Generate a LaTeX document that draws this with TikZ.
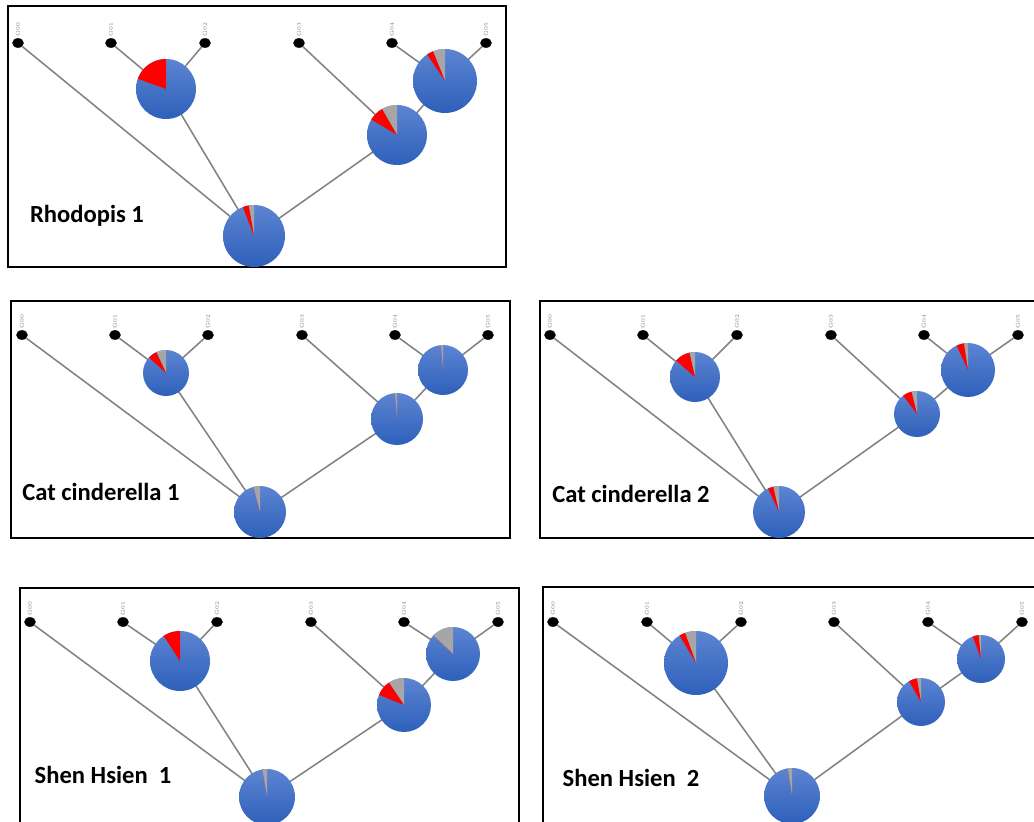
\documentclass[tikz,border=0pt]{standalone}
\usepackage{xcolor}
\usepackage{fontspec}
\usepackage{tikz}
\usetikzlibrary{shapes.geometric}
\newfontfamily\calibri{Carlito}
\definecolor{pietop}{RGB}{92,132,210}
\definecolor{piebottom}{RGB}{46,96,186}
\definecolor{piegray}{RGB}{166,166,166}
\definecolor{piered}{RGB}{255,0,0}
\definecolor{branchgray}{RGB}{130,130,130}
\newcommand{\drawpie}[4]{%
  \shade[top color=pietop,bottom color=piebottom] (#1.center) circle (#2);
  \fill[piegray] (#1.center) -- ++(90:#2) arc[start angle=90,end angle=#3,radius=#2] -- cycle;
  \fill[piered] (#1.center) -- ++(#3:#2) arc[start angle=#3,end angle=#4,radius=#2] -- cycle;
}

\begin{document}
\begin{tikzpicture}[x=0.025cm,y=0.025cm]
\useasboundingbox (0,0) rectangle (1034,-822);
\clip (0,0) rectangle (1034,-822);
\tikzstyle{leaf}=[ellipse,fill=black,inner sep=0,minimum width=0.29cm,minimum height=0.24cm];
\tikzstyle{tag}=[font=\fontsize{4}{4.5}\selectfont,text=gray,rotate=90,anchor=west,inner sep=0.8pt];
\tikzstyle{hub}=[circle,inner sep=0,minimum size=1pt];
\tikzstyle{branch}=[draw=branchgray,line width=1.1pt];
\tikzstyle{frame}=[draw=black,line width=1pt];
\tikzstyle{title}=[font=\calibri\bfseries\fontsize{17.5}{20}\selectfont];

% Rhodopis 1
\draw[frame] (8,-6) rectangle (506,-267);
\node[leaf,label={[tag]90:G00}] (a0) at (18,-43) {};
\node[leaf,label={[tag]90:G01}] (a1) at (111,-43) {};
\node[leaf,label={[tag]90:G02}] (a2) at (205,-43) {};
\node[leaf,label={[tag]90:G03}] (a3) at (299,-43) {};
\node[leaf,label={[tag]90:G04}] (a4) at (392,-43) {};
\node[leaf,label={[tag]90:G05}] (a5) at (486,-43) {};
\node[hub] (ar) at (254,-236) {};
\node[hub] (ap) at (166,-89) {};
\node[hub] (aq) at (397,-135) {};
\node[hub] (as) at (445,-81) {};
\draw[branch] (ar)--(a0);
\draw[branch] (ar)--(ap);
\draw[branch] (ap)--(a1);
\draw[branch] (ap)--(a2);
\draw[branch] (ar)--(aq);
\draw[branch] (aq)--(a3);
\draw[branch] (aq)--(as);
\draw[branch] (as)--(a4);
\draw[branch] (as)--(a5);
\drawpie{ap}{30}{90}{160}
\drawpie{ar}{31}{100}{111}
\drawpie{aq}{30}{120}{149}
\drawpie{as}{32}{112}{124}
\node[title] (ta) at (87,-216) {Rhodopis 1};

% Cat cinderella 1
\draw[frame] (11,-301) rectangle (510,-538);
\node[leaf,label={[tag]90:G00}] (b0) at (22,-335) {};
\node[leaf,label={[tag]90:G01}] (b1) at (115,-335) {};
\node[leaf,label={[tag]90:G02}] (b2) at (208,-335) {};
\node[leaf,label={[tag]90:G03}] (b3) at (302,-335) {};
\node[leaf,label={[tag]90:G04}] (b4) at (395,-335) {};
\node[leaf,label={[tag]90:G05}] (b5) at (488,-335) {};
\node[hub] (br) at (260,-512) {};
\node[hub] (bp) at (166,-373) {};
\node[hub] (bq) at (397,-419) {};
\node[hub] (bs) at (443,-370) {};
\draw[branch] (br)--(b0);
\draw[branch] (br)--(bp);
\draw[branch] (bp)--(b1);
\draw[branch] (bp)--(b2);
\draw[branch] (br)--(bq);
\draw[branch] (bq)--(b3);
\draw[branch] (bq)--(bs);
\draw[branch] (bs)--(b4);
\draw[branch] (bs)--(b5);
\drawpie{bp}{23}{115}{138}
\drawpie{br}{26}{105}{105}
\drawpie{bq}{26}{95}{95}
\drawpie{bs}{25}{95}{95}
\node[title] (tb) at (101,-492) {Cat cinderella 1};

% Cat cinderella 2
\draw[frame] (540,-301) rectangle (1040,-538);
\node[leaf,label={[tag]90:G00}] (c0) at (550,-335) {};
\node[leaf,label={[tag]90:G01}] (c1) at (643,-335) {};
\node[leaf,label={[tag]90:G02}] (c2) at (737,-335) {};
\node[leaf,label={[tag]90:G03}] (c3) at (831,-335) {};
\node[leaf,label={[tag]90:G04}] (c4) at (924,-335) {};
\node[leaf,label={[tag]90:G05}] (c5) at (1018,-335) {};
\node[hub] (cr) at (779,-512) {};
\node[hub] (cp) at (695,-377) {};
\node[hub] (cq) at (917,-414) {};
\node[hub] (cs) at (968,-370) {};
\draw[branch] (cr)--(c0);
\draw[branch] (cr)--(cp);
\draw[branch] (cp)--(c1);
\draw[branch] (cp)--(c2);
\draw[branch] (cr)--(cq);
\draw[branch] (cq)--(c3);
\draw[branch] (cq)--(cs);
\draw[branch] (cs)--(c4);
\draw[branch] (cs)--(c5);
\drawpie{cp}{25}{103}{139}
\drawpie{cr}{26}{103}{115}
\drawpie{cq}{23}{104}{127}
\drawpie{cs}{27}{99}{115}
\node[title] (tc) at (631,-494) {Cat cinderella 2};

% Shen Hsien 1
\draw[frame] (20,-588) rectangle (519,-840);
\node[leaf,label={[tag]90:G00}] (d0) at (30,-622) {};
\node[leaf,label={[tag]90:G01}] (d1) at (123,-622) {};
\node[leaf,label={[tag]90:G02}] (d2) at (217,-622) {};
\node[leaf,label={[tag]90:G03}] (d3) at (311,-622) {};
\node[leaf,label={[tag]90:G04}] (d4) at (404,-622) {};
\node[leaf,label={[tag]90:G05}] (d5) at (498,-622) {};
\node[hub] (dr) at (267,-797) {};
\node[hub] (dp) at (180,-661) {};
\node[hub] (dq) at (404,-705) {};
\node[hub] (ds) at (453,-654) {};
\draw[branch] (dr)--(d0);
\draw[branch] (dr)--(dp);
\draw[branch] (dp)--(d1);
\draw[branch] (dp)--(d2);
\draw[branch] (dr)--(dq);
\draw[branch] (dq)--(d3);
\draw[branch] (dq)--(ds);
\draw[branch] (ds)--(d4);
\draw[branch] (ds)--(d5);
\drawpie{dp}{30}{90}{123}
\drawpie{dr}{28}{100}{100}
\drawpie{dq}{27}{124}{158}
\drawpie{ds}{27}{137}{137}
\node[title] (td) at (103,-775) {Shen Hsien\ \ 1};

% Shen Hsien 2
\draw[frame] (543,-587) rectangle (1040,-840);
\node[leaf,label={[tag]90:G00}] (e0) at (553,-622) {};
\node[leaf,label={[tag]90:G01}] (e1) at (647,-622) {};
\node[leaf,label={[tag]90:G02}] (e2) at (741,-622) {};
\node[leaf,label={[tag]90:G03}] (e3) at (834,-622) {};
\node[leaf,label={[tag]90:G04}] (e4) at (928,-622) {};
\node[leaf,label={[tag]90:G05}] (e5) at (1022,-622) {};
\node[hub] (er) at (792,-796) {};
\node[hub] (ep) at (696,-663) {};
\node[hub] (eq) at (921,-702) {};
\node[hub] (es) at (981,-659) {};
\draw[branch] (er)--(e0);
\draw[branch] (er)--(ep);
\draw[branch] (ep)--(e1);
\draw[branch] (ep)--(e2);
\draw[branch] (er)--(eq);
\draw[branch] (eq)--(e3);
\draw[branch] (eq)--(es);
\draw[branch] (es)--(e4);
\draw[branch] (es)--(e5);
\drawpie{ep}{32}{110}{121}
\drawpie{er}{28}{99}{99}
\drawpie{eq}{24}{100}{120}
\drawpie{es}{24}{96}{110}
\node[title] (te) at (631,-778) {Shen Hsien\ \ 2};
\end{tikzpicture}
\end{document}
